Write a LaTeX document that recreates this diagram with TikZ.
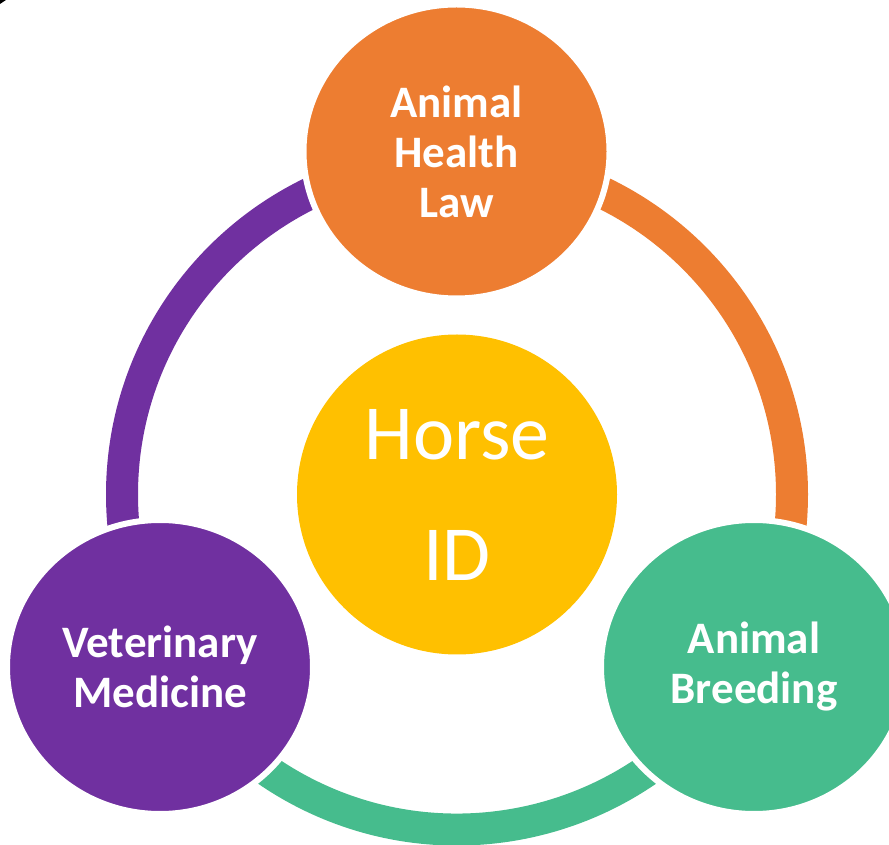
\documentclass[tikz,border=0pt]{standalone}
\usepackage{fontspec}
\setmainfont{Carlito}
\usetikzlibrary{shapes.geometric}
\definecolor{cOrange}{HTML}{ED7D31}
\definecolor{cPurple}{HTML}{7030A0}
\definecolor{cGreen}{HTML}{46BC8D}
\definecolor{cGold}{HTML}{FFC000}
\tikzset{
  ringarc/.style={line width=32pt},
  outer/.style={ellipse, fill=#1, draw=white, line width=6pt, minimum width=306pt, minimum height=294pt, inner sep=0pt, text=white, align=center, font=\fontsize{45}{50}\selectfont\bfseries},
  hub/.style={circle, fill=cGold, minimum size=320pt, inner sep=0pt, text=white, align=center, font=\fontsize{78}{121}\selectfont}
}
\begin{document}
\begin{tikzpicture}[x=1pt,y=1pt]
\useasboundingbox (0,0) rectangle (889,844);
\coordinate (C) at (457,349.5);
% ring
\draw[ringarc, cPurple] ([shift={(90:335pt)}]C) arc[start angle=90, end angle=210, radius=335pt];
\draw[ringarc, cOrange] ([shift={(90:335pt)}]C) arc[start angle=90, end angle=-30, radius=335pt];
\draw[ringarc, cGreen] ([shift={(-30:335pt)}]C) arc[start angle=-30, end angle=-150, radius=335pt];
% circles
\node[hub] (hub) at (C) {Horse\\ID};
\node[outer=cOrange] (law) at (456.5,692.5) {Animal\\Health\\Law};
\node[outer=cPurple] (vet) at (160,177) {Veterinary\\Medicine};
\node[outer=cGreen] (breed) at (754,177) {Animal\\Breeding};
% corner mark
\fill[black] (0,844) -- (6,844) -- (0,840) -- cycle;
\end{tikzpicture}
\end{document}
